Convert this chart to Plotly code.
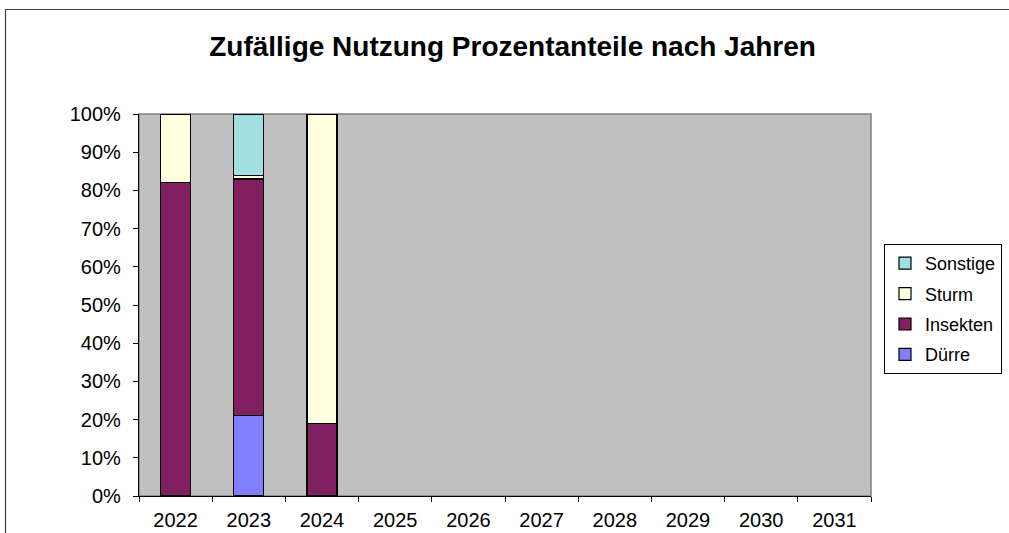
import plotly.graph_objects as go

years = ["2022", "2023", "2024", "2025", "2026", "2027", "2028", "2029", "2030", "2031"]
duerre = [0, 21, 0, 0, 0, 0, 0, 0, 0, 0]
insekten = [82, 62, 19, 0, 0, 0, 0, 0, 0, 0]
sturm = [18, 1, 81, 0, 0, 0, 0, 0, 0, 0]
sonstige = [0, 16, 0, 0, 0, 0, 0, 0, 0, 0]

series = [
    ("Dürre", duerre, "#8080FF", 4),
    ("Insekten", insekten, "#802060", 3),
    ("Sturm", sturm, "#FFFFE0", 2),
    ("Sonstige", sonstige, "#A0E0E0", 1),
]

FONT = "Liberation Sans, Arial, sans-serif"

fig = go.Figure()
for name, vals, col, rank in series:
    fig.add_trace(go.Bar(
        x=years, y=[v if v else None for v in vals], name=name,
        legendgroup=name, legendrank=rank,
        marker=dict(color=col, line=dict(color="black", width=1.2)),
        width=0.41,
    ))

W, H = 1009, 533
L, R, T, B = 139, 138, 114, 37
pw, ph = W - L - R, H - T - B

def px_x(v):
    return (v - L) / pw

def px_y(v):
    return (H - B - v) / ph

fig.update_layout(
    width=W, height=H,
    margin=dict(l=L, r=R, t=T, b=B, autoexpand=False),
    paper_bgcolor="white",
    plot_bgcolor="#C0C0C0",
    barmode="stack",
    font=dict(family=FONT, color="black", size=19),
    title=dict(text="<b>Zufällige Nutzung Prozentanteile nach Jahren</b>",
               x=0.508, xanchor="center", y=1 - 46 / H, yanchor="middle",
               font=dict(family=FONT, size=28, color="black")),
    showlegend=True,
    legend=dict(
        x=px_x(884), xanchor="left", y=px_y(244), yanchor="top",
        traceorder="grouped", tracegroupgap=4,
        bordercolor="black", borderwidth=1, bgcolor="white",
        font=dict(family=FONT, size=18, color="black"),
        itemwidth=30,
    ),
    shapes=[
        dict(type="rect", xref="paper", yref="paper", x0=0, x1=1, y0=0, y1=1,
             line=dict(color="#808080", width=1.5), layer="below"),
        dict(type="rect", xref="paper", yref="paper",
             x0=px_x(5.5), x1=px_x(1015), y0=px_y(540), y1=px_y(9.5),
             line=dict(color="#404040", width=1.2), layer="above"),
    ],
)

fig.update_xaxes(
    type="category", showgrid=False, zeroline=False,
    showline=True, linecolor="black", linewidth=1.2,
    ticks="outside", tickson="boundaries", ticklen=5, tickcolor="black",
    ticklabelstandoff=6,
    tickfont=dict(family=FONT, size=20, color="black"),
)
fig.update_yaxes(
    range=[0, 100], dtick=10, ticksuffix="%", showgrid=False, zeroline=False,
    showline=True, linecolor="black", linewidth=1.2,
    ticks="outside", ticklen=5, tickcolor="black",
    ticklabelstandoff=8,
    tickfont=dict(family=FONT, size=20, color="black"),
)

fig.write_html(
    "out.html",
    config={"displayModeBar": False},
    post_script="document.body.style.margin='0';document.body.style.overflow='hidden';",
)
